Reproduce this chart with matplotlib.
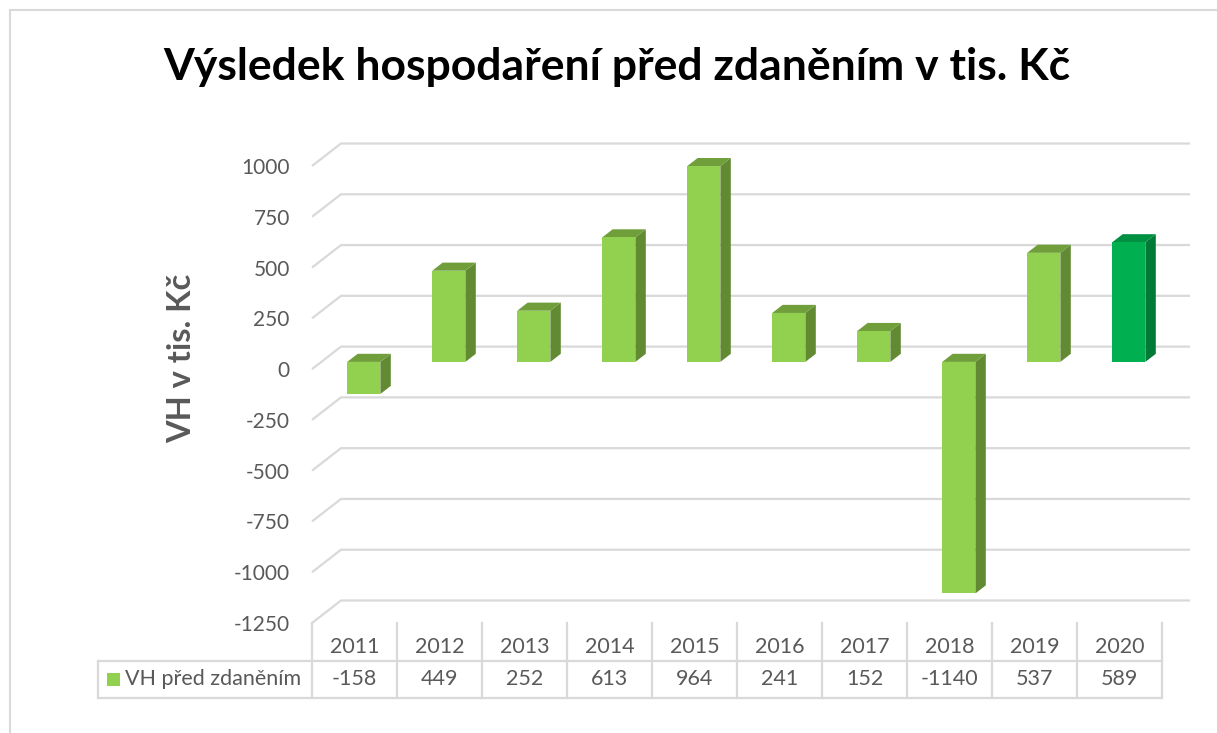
import matplotlib
matplotlib.use("Agg")
import matplotlib.pyplot as plt
from matplotlib.patches import Polygon, Rectangle

# data
years = ["2011", "2012", "2013", "2014", "2015", "2016", "2017", "2018", "2019", "2020"]
values = [-158, 449, 252, 613, 964, 241, 152, -1140, 537, 589]
series_name = "VH před zdaněním"
y_ticks = [1000, 750, 500, 250, 0, -250, -500, -750, -1000, -1250]
title = "Výsledek hospodaření před zdaněním v tis. Kč"
y_label = "VH v tis. Kč"

W, H = 1217, 733
FONT = "Lato"
GRAY_TXT = "#595959"
GRID = "#d9d9d9"

# colors (front, side, top); last year highlighted
light = ("#92d050", "#618a32", "#6f9e3a")
dark = ("#00b050", "#007a36", "#009041")

fig = plt.figure(figsize=(W / 100, H / 100), dpi=100)
fig.patch.set_facecolor("white")

# chart border
fig.patches.append(Rectangle((10 / W, -0.05), 1.1, 1 - 10 / H + 0.05,
                             transform=fig.transFigure, fill=False,
                             edgecolor="#d9d9d9", lw=1.5))

ax = fig.add_axes([312 / W, 1 - 623 / H, 850 / W, 457 / H])
ax.set_xlim(0, len(years))
ax.set_ylim(y_ticks[-1], y_ticks[0])
for s in ax.spines.values():
    s.set_visible(False)
ax.set_xticks([])
ax.set_yticks(y_ticks)
ax.set_yticklabels([str(t) for t in y_ticks], fontsize=15, color=GRAY_TXT,
                   family=FONT)
ax.tick_params(axis="y", length=0, pad=16)

# pseudo 3d depth (data units)
DX = 29 / 85
DY = 22.5 * (y_ticks[0] - y_ticks[-1]) / 457
x_back_end = len(years) + 28 / 85

for v in y_ticks:
    ax.plot([0, DX, x_back_end], [v, v + DY, v + DY], color=GRID, lw=1.6,
            clip_on=False, zorder=1, solid_capstyle="butt")

BW = 0.39
f0 = 0.32   # depth of bar front face
fd = 0.36   # bar depth
for i, v in enumerate(values):
    front, side, top = dark if i == len(values) - 1 else light
    cx = i + 0.5 + f0 * DX
    y0 = f0 * DY
    ax.bar(cx, v, BW, bottom=y0, color=front, zorder=4, linewidth=0,
           clip_on=False)
    x0 = cx - BW / 2
    x1 = cx + BW / 2
    ax.add_patch(Polygon([(x1, y0), (x1 + fd * DX, y0 + fd * DY),
                          (x1 + fd * DX, y0 + v + fd * DY), (x1, y0 + v)],
                         closed=True, facecolor=side, edgecolor="none",
                         zorder=3, clip_on=False))
    yt = y0 + max(v, 0)
    ax.add_patch(Polygon([(x0, yt), (x1, yt), (x1 + fd * DX, yt + fd * DY),
                          (x0 + fd * DX, yt + fd * DY)],
                         closed=True, facecolor=top, edgecolor="none",
                         zorder=3, clip_on=False))

# data table under the plot
tr = ax.get_xaxis_transform()
h_row = -38 / 457
d_row = -75 / 457
x_lab = -214 / 85
tkw = dict(transform=tr, clip_on=False, color=GRID, lw=1.6, zorder=1)
for i in range(len(years) + 1):
    ax.plot([i, i], [0, d_row], **tkw)
ax.plot([x_lab, x_lab], [h_row, d_row], **tkw)
ax.plot([x_lab, len(years)], [h_row, h_row], **tkw)
ax.plot([x_lab, len(years)], [d_row, d_row], **tkw)

for i, (yr, v) in enumerate(zip(years, values)):
    ax.text(i + 0.5, -24 / 457, yr, transform=tr, ha="center", va="center",
            fontsize=15.5, color=GRAY_TXT, family=FONT)
    ax.text(i + 0.5, -56 / 457, str(v), transform=tr, ha="center", va="center",
            fontsize=15.5, color=GRAY_TXT, family=FONT)

ax.add_patch(Rectangle((-205 / 85, -63 / 457), 13 / 85, 13 / 457, transform=tr,
                       facecolor=light[0], edgecolor="none", clip_on=False))
ax.text(-187 / 85, -56 / 457, series_name, transform=tr, ha="left", va="center",
        fontsize=15.5, color=GRAY_TXT, family=FONT)

fig.text(182 / W, 1 - 358 / H, y_label, rotation=90, ha="center", va="center",
         fontsize=23.5, fontweight="bold", color=GRAY_TXT, family=FONT)
fig.text(617 / W, 1 - 67 / H, title, ha="center", va="center",
         fontsize=32, fontweight="bold", color="black", family=FONT)

fig.savefig("out.png", dpi=100, facecolor="white")
